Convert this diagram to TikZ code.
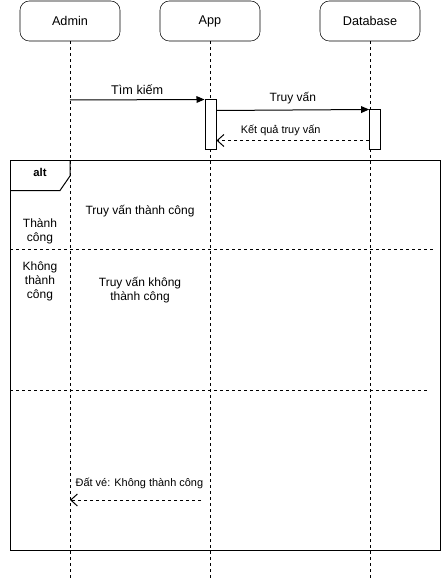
\documentclass[tikz,border=0pt]{standalone}
\usepackage{fontspec}
\setmainfont{Liberation Sans}
\usetikzlibrary{arrows.meta,positioning,calc}

\tikzset{
  lifebox/.style={draw,rounded corners=7pt,minimum width=75pt,minimum height=30pt,font=\fontsize{9.5}{11}\selectfont},
  lifeline/.style={dash pattern=on 2.25pt off 2.25pt,line width=0.75pt},
  actbox/.style={draw,fill=white,line width=0.75pt,minimum width=8pt,minimum height=37.5pt,inner sep=0pt},
  msg/.style={line width=0.75pt,-{Triangle[length=6pt,width=5pt]}},
  reply/.style={line width=0.75pt,dash pattern=on 2.25pt off 2.25pt,-{Straight Barb[length=5pt,width=9pt]}},
  lbl/.style={font=\fontsize{9}{10.5}\selectfont,align=center},
  small/.style={font=\fontsize{8.2}{10}\selectfont},
  sep/.style={dash pattern=on 2.25pt off 2.25pt,line width=0.75pt}
}

\begin{document}
\begin{tikzpicture}[x=0.75pt,y=-0.75pt]
		\useasboundingbox (0,0) rectangle (442,581);
		% lifelines
		\node[lifebox] (admin) at (70,21) {Admin};
		\node[lifebox] (app) at (210,21) {App};
		\node[lifebox] (db) at (370,21) {Database};
		\coordinate (adminEnd) at (70,581);
		\coordinate (appEnd) at (210,581);
		\coordinate (dbEnd) at (370,581);
		\draw[lifeline] (admin) -- (adminEnd);
		\draw[lifeline] (app) -- (appEnd);
		\draw[lifeline] (db) -- (dbEnd);
		% activations
		\node[actbox,minimum width=8.25pt] (appAct) at (210.5,125) {};
		\node[actbox,minimum height=30pt] (dbAct) at (375,130) {};
		% messages
		\coordinate (adminQ) at (70,100);
		\draw[msg] (adminQ) -- (appAct.north west) node[lbl,midway,above,font=\fontsize{9.5}{11}\selectfont]{Tìm kiếm};
		\draw[msg] ($(appAct.north east)+(0,11)$) -- (dbAct.north west) node[lbl,midway,above=1pt]{Truy vấn};
		\draw[reply] ($(dbAct.south west)+(0,-10)$) -- ($(appAct.south east)+(0,-10)$) node[lbl,small,pos=0.58,above]{Kết quả truy vấn};
		% alt frame
		\draw[line width=0.75pt] (10,160) rectangle (440,550);
		\draw[line width=0.75pt] (10,190.5) -- (60,190.5) -- (70,176) -- (70,160);
		\node[font=\bfseries\fontsize{8.5}{10}\selectfont] (altTag) at (40,172) {alt};
		\draw[sep] (10,249) -- (433,249);
		\draw[sep] (10,390) -- (428,390);
		\node[lbl] (okCond) at (40,231) {Thành\\công};
		\node[lbl] (okText) at (140,211) {Truy vấn thành công};
		\node[lbl] (failCond) at (40,281) {Không\\thành\\công};
		\node[lbl] (failText) at (140,290) {Truy vấn không\\thành công};
		\coordinate (appFail) at (201,500);
		\coordinate (adminFail) at (70,500);
		\draw[reply] (appFail) -- (adminFail) node[lbl,small,pos=0.47,above=5pt]{Đất vé: Không thành công};
		\end{tikzpicture}
\end{document}
